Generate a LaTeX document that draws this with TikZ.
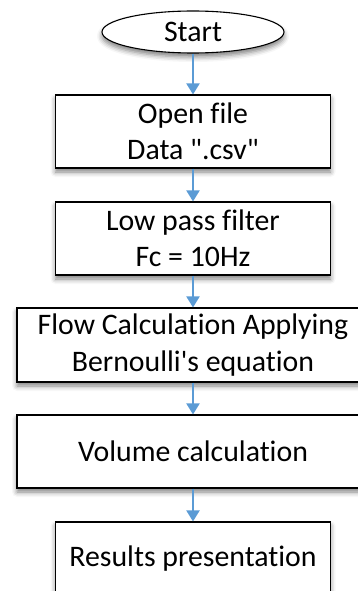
\documentclass[tikz,border=0pt]{standalone}
\usepackage{fontspec}
\newfontfamily\calib{Carlito}[Ligatures=NoCommon]
\usetikzlibrary{arrows.meta,shapes.geometric,shadows.blur}
\definecolor{arrowblue}{RGB}{91,155,213}
\begin{document}
\begin{tikzpicture}[x=1pt,y=-1pt,
  every node/.style={font=\calib\fontsize{29.8}{36.4}\selectfont},
  softshadow/.style={blur shadow={shadow xshift=0pt, shadow yshift=-4pt, shadow blur radius=5pt, shadow opacity=50}},
  procbox/.style={draw=black, line width=1.1pt, fill=white, rectangle, align=center, inner sep=0pt, softshadow},
  terminal/.style={draw=black, line width=1.1pt, fill=white, ellipse, inner sep=0pt, softshadow},
  flowarrow/.style={draw=arrowblue, line width=2pt, -{Triangle[width=13pt,length=11pt]}}
]
\useasboundingbox (0,0) rectangle (358,591);
\clip (0,0) rectangle (358,591);
\node[terminal, minimum width=182pt, minimum height=42pt] (start) at (193,32) {Start};
\node[procbox, minimum width=275pt, minimum height=73pt] (open) at (193,131.5) {Open file\\Data ".csv"};
\node[procbox, minimum width=275pt, minimum height=73pt] (filter) at (193,238.5) {Low pass filter\\Fc = 10Hz};
\node[procbox, minimum width=352pt, minimum height=74pt] (flow) at (193,345) {Flow Calculation Applying\\Bernoulli's equation};
\node[procbox, minimum width=352pt, minimum height=73pt] (volume) at (193,451.5) {Volume calculation};
\node[procbox, minimum width=275pt, minimum height=73pt] (results) at (193,558.5) {Results presentation};
\draw[flowarrow] (start) -- (open);
\draw[flowarrow] (open) -- (filter);
\draw[flowarrow] (filter) -- (flow);
\draw[flowarrow] (flow) -- (volume);
\draw[flowarrow] (volume) -- (results);
\end{tikzpicture}
\end{document}
